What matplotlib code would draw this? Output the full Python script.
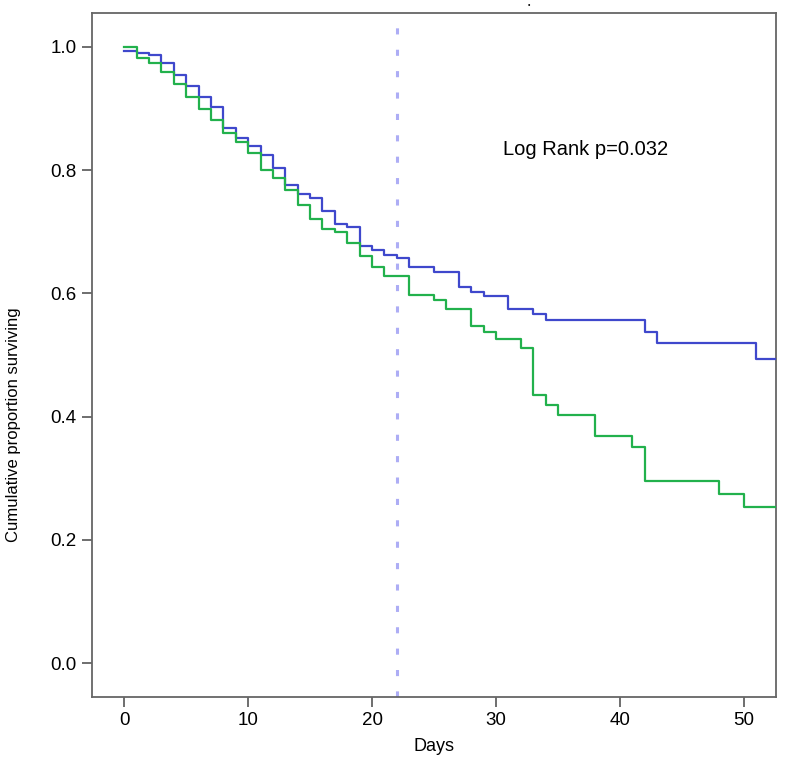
import numpy as np
import matplotlib
matplotlib.use("Agg")
import matplotlib.pyplot as plt

plt.rcParams['font.family'] = ['Liberation Sans', 'DejaVu Sans']

# Kaplan-Meier steps (day of step, survival after step)
days_blue = [0, 1, 2, 3, 4, 5, 6, 7, 8, 9, 10, 11, 12, 13, 14, 15, 16, 17,
             18, 19, 20, 21, 22, 23, 25, 27, 28, 29, 31, 33, 34, 42, 43, 51]
surv_blue = [0.994, 0.990, 0.987, 0.974, 0.955, 0.937, 0.918, 0.902, 0.868,
             0.852, 0.839, 0.825, 0.803, 0.776, 0.762, 0.755, 0.734, 0.712,
             0.707, 0.677, 0.670, 0.663, 0.658, 0.643, 0.635, 0.611, 0.603,
             0.595, 0.575, 0.566, 0.556, 0.538, 0.520, 0.493]

days_green = [0, 1, 2, 3, 4, 5, 6, 7, 8, 9, 10, 11, 12, 13, 14, 15, 16, 17,
              18, 19, 20, 21, 23, 25, 26, 28, 29, 30, 32, 33, 34, 35, 38, 41,
              42, 48, 50]
surv_green = [1.000, 0.982, 0.974, 0.959, 0.940, 0.918, 0.900, 0.881, 0.860,
              0.846, 0.828, 0.801, 0.787, 0.768, 0.744, 0.720, 0.704, 0.700,
              0.681, 0.660, 0.642, 0.628, 0.597, 0.589, 0.575, 0.547, 0.538,
              0.526, 0.511, 0.435, 0.419, 0.403, 0.369, 0.351, 0.296, 0.275,
              0.254]

end_day = 53
cutoff_day = 22
x_ticks = [0, 10, 20, 30, 40, 50]
y_ticks = [0.0, 0.2, 0.4, 0.6, 0.8, 1.0]

fig = plt.figure(figsize=(7.92, 7.61), dpi=100)
ax = fig.add_axes([92 / 792, 1 - 697 / 761, 684 / 792, 684 / 761])

# Extend each curve flat to the end of follow-up
ax.step(days_blue + [end_day], surv_blue + [surv_blue[-1]], where='post',
        color='#3f48cc', linewidth=1.6, zorder=3)
ax.step(days_green + [end_day], surv_green + [surv_green[-1]], where='post',
        color='#22b14c', linewidth=1.6, zorder=3)

ax.axvline(cutoff_day, color='#adadf5', linewidth=2.2,
           linestyle=(0, (2.0, 5.0)), zorder=2)

ax.text(37.2, 0.834, "Log Rank p=0.032", fontsize=14.5, ha='center',
        va='center')

ax.set_xlim(-2.6, 52.6)
ax.set_ylim(-0.055, 1.055)
ax.set_xticks(x_ticks)
ax.set_yticks(y_ticks)
ax.set_yticklabels([f"{v:.1f}" for v in y_ticks])
ax.tick_params(direction='out', length=7, width=1.2, color='#555555',
               labelsize=13.5, pad=4)

for spine in ax.spines.values():
    spine.set_color('#666666')
    spine.set_linewidth(1.3)

ax.set_xlabel("Days", fontsize=13, labelpad=6)
ax.set_ylabel("Cumulative proportion surviving", fontsize=12)
ax.yaxis.set_label_coords(-0.104, 0.398)

# Small stray dot above the frame in the original
fig.text(529 / 792, 1 - 5 / 761, "\u2022", fontsize=5, ha='center',
         va='center')

fig.savefig("out.png", dpi=100)
